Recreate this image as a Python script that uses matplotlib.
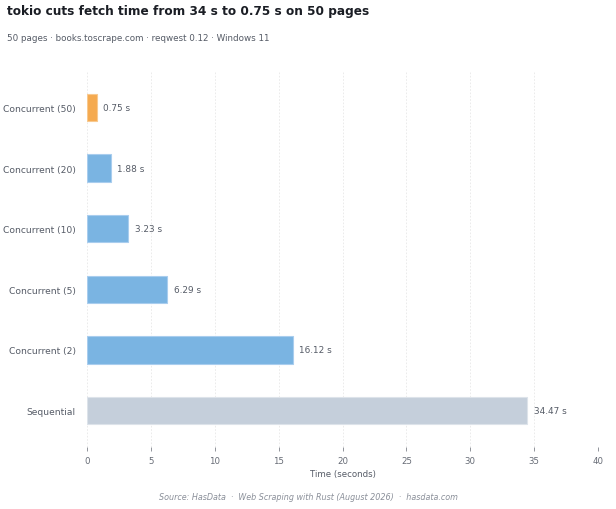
import matplotlib.pyplot as plt

labels = ['Sequential', 'Concurrent (2)', 'Concurrent (5)', 'Concurrent (10)', 'Concurrent (20)', 'Concurrent (50)']
times = [34.47, 16.12, 6.29, 3.23, 1.88, 0.75]
colors = ['#c5cfdb', '#7ab4e2', '#7ab4e2', '#7ab4e2', '#7ab4e2', '#f5aa4f']
edges = ['#dde3ea', '#a9cdee', '#a9cdee', '#a9cdee', '#a9cdee', '#f8c98f']

fig = plt.figure(figsize=(6.16, 5.1), dpi=100)
ax = fig.add_axes([87 / 616, 1 - 448 / 510, (598 - 87) / 616, (448 - 72) / 510])

y = range(len(labels))
ax.barh(y, times, height=0.45, color=colors, edgecolor=edges, linewidth=0.8)
for yi, t in zip(y, times):
    ax.text(t + 0.5, yi, f'{t:.2f} s', va='center', fontsize=6.4, color='#555b66')

ax.set_yticks(list(y))
ax.set_yticklabels(labels, fontsize=6.6, color='#555b66')
ax.set_xlim(0, 40)
ax.set_ylim(-0.6, 5.6)
ax.set_xticks(range(0, 41, 5))
ax.tick_params(axis='x', labelsize=6.2, colors='#666b75', length=3, width=0.5)
ax.tick_params(axis='y', length=0, pad=8)
ax.set_xlabel('Time (seconds)', fontsize=6.2, color='#555b66', labelpad=3)
ax.grid(axis='x', color='#e8e8e8', linewidth=0.6, linestyle=(0, (2, 2)))
ax.set_axisbelow(True)
for s in ax.spines.values():
    s.set_visible(False)

fig.text(7 / 616, 1 - 12 / 510, 'tokio cuts fetch time from 34 s to 0.75 s on 50 pages',
         fontsize=8.7, fontweight='bold', color='#1a1d24', va='center')
fig.text(7 / 616, 1 - 39 / 510, '50 pages · books.toscrape.com · reqwest 0.12 · Windows 11',
         fontsize=6.3, color='#555b66', va='center')
fig.text(0.5, 1 - 498 / 510, 'Source: HasData  ·  Web Scraping with Rust (August 2026)  ·  hasdata.com',
         fontsize=5.8, color='#8a8f99', style='italic', ha='center', va='center')

fig.savefig('out.png', dpi=100)
